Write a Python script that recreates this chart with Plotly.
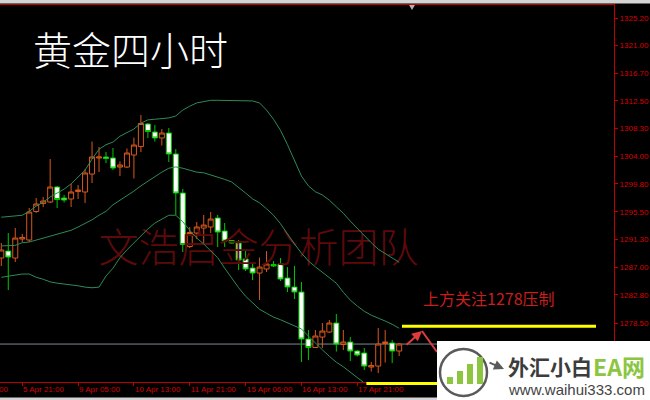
import plotly.graph_objects as go

# ---------------- data ----------------
bar_open = [1288.45, 1289.52, 1288.45, 1291.36, 1291.21, 1295.57, 1296.80, 1297.03, 1299.32, 1297.64,
            1297.49, 1298.63, 1298.56, 1301.31, 1303.76, 1303.92, 1303.76, 1302.38, 1302.38, 1304.22,
            1305.52, 1308.97, 1307.74, 1306.83, 1307.59, 1304.38, 1298.40, 1290.21, 1292.28, 1293.04,
            1293.20, 1294.58, 1292.59, 1291.13, 1290.75, 1288.30, 1286.92, 1286.15, 1286.77, 1287.46,
            1287.53, 1285.39, 1284.01, 1283.25, 1276.05, 1274.75, 1276.35, 1277.12, 1278.50, 1275.21,
            1275.59, 1274.21, 1273.91, 1271.76, 1271.91, 1275.36, 1275.44, 1274.21]
bar_high = [1290.75, 1292.28, 1293.04, 1292.13, 1296.11, 1297.64, 1297.79, 1303.61, 1299.48, 1298.10,
            1299.78, 1299.63, 1302.08, 1306.29, 1305.45, 1304.68, 1305.29, 1303.23, 1305.22, 1306.90,
            1310.35, 1309.12, 1308.82, 1308.20, 1308.36, 1305.14, 1299.02, 1293.20, 1293.96, 1295.04,
            1295.49, 1295.04, 1293.81, 1291.21, 1291.21, 1289.52, 1287.69, 1288.53, 1289.52, 1287.99,
            1288.45, 1287.07, 1287.23, 1284.78, 1277.43, 1277.43, 1278.50, 1278.96, 1279.88, 1277.43,
            1276.35, 1274.36, 1274.67, 1272.53, 1277.73, 1277.43, 1275.90, 1275.44]
bar_low = [1287.23, 1283.55, 1287.84, 1290.90, 1290.90, 1295.34, 1296.26, 1296.87, 1296.11, 1296.95,
           1296.26, 1297.49, 1296.87, 1299.93, 1301.62, 1303.00, 1301.93, 1301.01, 1302.23, 1300.62,
           1304.68, 1306.83, 1306.29, 1305.68, 1303.15, 1295.04, 1289.37, 1289.98, 1291.36, 1290.75,
           1292.28, 1290.14, 1290.14, 1290.67, 1286.61, 1286.46, 1285.08, 1282.02, 1286.31, 1287.07,
           1284.93, 1283.25, 1282.17, 1272.53, 1272.83, 1274.67, 1274.67, 1276.97, 1274.13, 1274.36,
           1272.68, 1273.37, 1271.30, 1271.07, 1270.84, 1272.45, 1272.37, 1273.45]
bar_close = [1289.68, 1288.60, 1291.51, 1291.59, 1295.49, 1296.72, 1297.18, 1299.32, 1297.41, 1297.33,
             1298.56, 1298.86, 1301.47, 1303.92, 1303.92, 1303.69, 1302.23, 1302.69, 1304.53, 1305.75,
             1309.05, 1307.82, 1306.83, 1307.59, 1304.38, 1298.40, 1290.52, 1292.36, 1293.20, 1293.50,
             1294.42, 1292.43, 1291.05, 1290.75, 1288.15, 1286.77, 1286.15, 1287.07, 1287.53, 1287.23,
             1285.24, 1284.01, 1283.25, 1276.05, 1274.75, 1276.51, 1277.27, 1278.50, 1275.28, 1275.59,
             1274.21, 1273.60, 1271.91, 1271.99, 1275.28, 1275.59, 1274.21, 1275.28]

bb_upper = [1294.7, 1294.8, 1294.9, 1295.0, 1295.6, 1296.4, 1297.0, 1297.8, 1298.4, 1299.0,
            1299.8, 1300.9, 1301.9, 1303.6, 1305.1, 1305.8, 1306.2, 1307.1, 1307.6, 1308.2,
            1309.1, 1309.6, 1309.7, 1309.8, 1309.9, 1310.2, 1311.1, 1311.7, 1312.2, 1312.4,
            1312.6, 1312.6, 1312.6, 1312.6, 1312.6, 1312.6, 1312.5, 1312.2, 1311.1, 1309.7,
            1308.0, 1305.8, 1303.5, 1301.0, 1299.5, 1298.6, 1298.1, 1297.3, 1296.3, 1295.3,
            1294.1, 1293.0, 1291.8, 1290.8, 1289.8, 1289.1, 1288.5, 1287.8]
bb_middle = [1290.3, 1290.4, 1290.4, 1290.8, 1290.9, 1291.2, 1291.5, 1291.7, 1292.0, 1292.3,
             1292.7, 1293.2, 1293.7, 1294.3, 1295.0, 1295.6, 1296.6, 1297.3, 1297.9, 1298.7,
             1299.5, 1300.2, 1301.0, 1301.6, 1302.2, 1302.4, 1302.2, 1301.9, 1301.6, 1301.5,
             1301.2, 1300.9, 1300.5, 1300.1, 1299.3, 1298.4, 1297.5, 1296.9, 1296.0, 1295.0,
             1293.7, 1292.1, 1290.6, 1289.2, 1288.0, 1287.1, 1286.3, 1285.4, 1284.6, 1283.2,
             1282.0, 1281.1, 1280.3, 1279.7, 1279.3, 1278.8, 1278.3, 1277.7]
bb_lower = [1285.5, 1285.7, 1285.8, 1286.0, 1286.0, 1285.5, 1285.2, 1284.8, 1284.6, 1284.5,
            1284.3, 1284.2, 1284.0, 1283.9, 1284.0, 1285.7, 1286.9, 1288.5, 1289.7, 1290.8,
            1291.8, 1292.9, 1293.8, 1294.4, 1295.0, 1295.0, 1294.0, 1292.7, 1291.5, 1290.6,
            1289.5, 1288.5, 1286.9, 1285.4, 1283.9, 1282.6, 1281.6, 1280.6, 1280.0, 1279.4,
            1279.0, 1278.5, 1278.0, 1277.6, 1276.5, 1275.4, 1274.4, 1273.4, 1272.5, 1271.8,
            1271.0, 1270.1, 1269.3, 1268.5, 1267.9, 1267.3, 1266.9, 1266.4]

bars = list(range(len(bar_close)))

time_tick_bars = [-5, 3, 11, 19, 27, 35, 43, 51]
time_tick_labels = ["4 Apr 13:00", "5 Apr 21:00", "9 Apr 05:00", "10 Apr 13:00",
                    "11 Apr 21:00", "15 Apr 06:00", "16 Apr 13:00", "17 Apr 21:00"]
price_ticks = [1325.20, 1321.00, 1316.70, 1312.50, 1308.30, 1304.00,
               1299.80, 1295.50, 1291.30, 1287.00, 1282.80, 1278.50]

resistance_level = 1278.0
resistance_from_bar = 57.4
resistance_to_bar = 85.2
support_from_bar = 52.3
last_price = bar_close[-1]

title_text = "黄金四小时"
watermark_text = "文浩启金分析团队"
note_text = "上方关注1278压制"

# ---------------- layout geometry / styles ----------------
W, H = 650, 400
ML, MR, MT, MB = 0, 36, 5, 18
PW = W - ML - MR
PH = H - MT - MB


def px(x):
    return (x - ML) / PW


def py(y):
    return (H - MB - y) / PH


BAR0, BARSTEP = 1.3, 6.98
x_range = [(0 - BAR0) / BARSTEP, (PW - BAR0) / BARSTEP]
y_range = [1269.47, 1327.19]

AX = "#c00000"
LABEL = "#d80000"
UP = "#d8581e"
DN = "#00c800"
BAND = "#2e8b57"
CJK = "Noto Sans CJK SC"

fig = go.Figure()

# watermark (drawn first so candles sit above it)
fig.add_trace(go.Scatter(
    x=[36.85], y=[1289.37], mode="text", text=[watermark_text],
    textfont=dict(family=CJK, size=40, color="#5e0a0a", weight=300),
    hoverinfo="skip", showlegend=False))

fig.add_trace(go.Candlestick(
    x=bars, open=bar_open, high=bar_high, low=bar_low, close=bar_close,
    increasing=dict(line=dict(color=UP, width=1), fillcolor="#000000"),
    decreasing=dict(line=dict(color=DN, width=1), fillcolor="#ffffff"),
    whiskerwidth=0, hoverinfo="skip", showlegend=False))

for band in (bb_upper, bb_middle, bb_lower):
    fig.add_trace(go.Scatter(x=bars, y=band, mode="lines",
                             line=dict(color=BAND, width=1),
                             hoverinfo="skip", showlegend=False))

shapes = [
    # top grey strip
    dict(type="rect", xref="paper", yref="paper", x0=-0.01, x1=1.08, y0=py(3.5), y1=py(-1),
         fillcolor="#d4d4d4", line=dict(width=0), layer="above"),
    # bottom grey strip
    dict(type="rect", xref="paper", yref="paper", x0=-0.01, x1=px(440), y0=py(401), y1=py(397.5),
         fillcolor="#d4d4d4", line=dict(width=0), layer="above"),
    # chart-shift marker
    dict(type="path", xref="paper", yref="paper",
         path=f"M {px(409)} {py(5)} L {px(415)} {py(5)} L {px(412)} {py(10)} Z",
         fillcolor="#b0b0b0", line=dict(width=0), layer="above"),
    # last price line
    dict(type="line", xref="paper", yref="y", x0=0, x1=1, y0=last_price, y1=last_price,
         line=dict(color="#7d8a96", width=1), layer="below"),
    # resistance line
    dict(type="line", xref="x", yref="y", x0=resistance_from_bar, x1=resistance_to_bar,
         y0=resistance_level, y1=resistance_level, line=dict(color="#ffff00", width=3), layer="above"),
    # support line at the bottom edge
    dict(type="line", xref="x", yref="paper", x0=support_from_bar, x1=resistance_to_bar,
         y0=py(383.5), y1=py(383.5), line=dict(color="#ffff00", width=3), layer="above"),
    # second leg of red marker
    dict(type="line", xref="paper", yref="paper", x0=px(422), y0=py(331), x1=px(437), y1=py(352),
         line=dict(color="#e03c3c", width=2), layer="above"),
    # logo box
    dict(type="rect", xref="paper", yref="paper", x0=px(437), x1=px(652), y0=py(402), y1=py(341),
         fillcolor="#ffffff", line=dict(width=0), layer="above"),
    dict(type="circle", xref="paper", yref="paper", x0=px(440), x1=px(487), y0=py(396), y1=py(349),
         line=dict(color="#5a5a5a", width=2.5), layer="above"),
]
for bx, top in ((447, 377), (457, 371), (467, 364), (477, 357)):
    shapes.append(dict(type="rect", xref="paper", yref="paper", x0=px(bx), x1=px(bx + 6),
                       y0=py(384), y1=py(top), fillcolor="#8cc63f", line=dict(width=0), layer="above"))

annotations = [
    dict(text=title_text, xref="paper", yref="paper", x=px(31), y=py(48), xanchor="left",
         yanchor="middle", showarrow=False, font=dict(family=CJK, size=39, color="#ffffff", weight=300)),
    dict(text=note_text, xref="paper", yref="paper", x=px(421), y=py(298), xanchor="left",
         yanchor="middle", showarrow=False, font=dict(family=CJK, size=16, color="#c81e1e")),
    dict(text="", xref="paper", yref="paper", x=px(422), y=py(331), ax=-17, ay=15,
         showarrow=True, arrowhead=2, arrowsize=1, arrowwidth=2, arrowcolor="#e03c3c"),
    dict(text="", xref="paper", yref="paper", x=px(504), y=py(369), ax=-16, ay=-7,
         showarrow=True, arrowhead=2, arrowsize=1, arrowwidth=2, arrowcolor="#5a5a5a"),
    dict(text="<b>外汇小白</b>", xref="paper", yref="paper", x=px(506), y=py(366), xanchor="left",
         yanchor="middle", showarrow=False, font=dict(family=CJK, size=21, color="#3c3c3c")),
    dict(text="<b>EA网</b>", xref="paper", yref="paper", x=px(591), y=py(366), xanchor="left",
         yanchor="middle", showarrow=False, font=dict(family=CJK, size=23, color="#8cc63f")),
    dict(text="www.waihui333.com", xref="paper", yref="paper", x=px(506), y=py(389), xanchor="left",
         yanchor="middle", showarrow=False, font=dict(family="Liberation Sans", size=15, color="#444444")),
]

for b, lab in zip(time_tick_bars, time_tick_labels):
    if x_range[0] <= b <= x_range[1]:
        xref, xv = "x", b
    else:
        xref, xv = "paper", (BAR0 + BARSTEP * b) / PW
    annotations.append(dict(text=lab, xref=xref, yref="paper", x=xv, y=py(389.5), xanchor="left",
                            yanchor="middle", showarrow=False, borderpad=0,
                            font=dict(family="Liberation Sans", size=8, color=LABEL)))

fig.update_layout(
    template="none",
    width=W, height=H,
    margin=dict(l=ML, r=MR, t=MT, b=MB, pad=0),
    paper_bgcolor="#000000", plot_bgcolor="#000000",
    showlegend=False,
    boxgap=0.28, boxgroupgap=0,
    xaxis=dict(range=x_range, showgrid=False, zeroline=False, showline=True, linecolor=AX,
               linewidth=1, mirror=True, ticks="outside", ticklen=3, tickcolor=AX,
               tickvals=[b for b in time_tick_bars if x_range[0] <= b <= x_range[1]],
               showticklabels=False, rangeslider=dict(visible=False), automargin=False,
               fixedrange=True),
    yaxis=dict(side="right", range=y_range, showgrid=False, zeroline=False, showline=True,
               linecolor=AX, linewidth=1, ticks="outside", ticklen=3, tickcolor=AX,
               tickvals=price_ticks, ticktext=[f"{v:.2f}" for v in price_ticks],
               tickfont=dict(family="Liberation Sans", size=8, color=LABEL),
               automargin=False, fixedrange=True),
    shapes=shapes,
    annotations=annotations,
)

fig.write_html(
    "out.html",
    config={"displayModeBar": False},
    post_script="document.body.style.margin='0';document.body.style.overflow='hidden';"
                "document.body.style.background='#000';",
)
